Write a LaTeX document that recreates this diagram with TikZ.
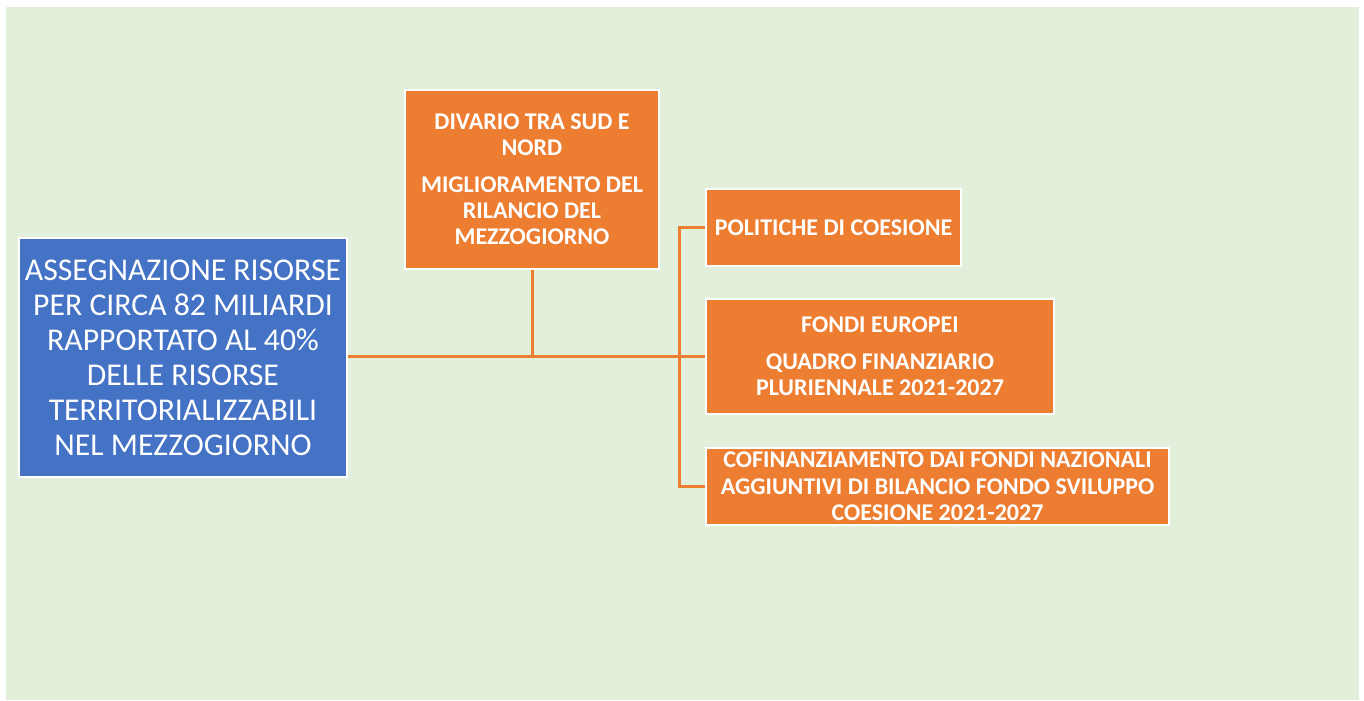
\documentclass[tikz,border=0pt]{standalone}
\usepackage{fontspec}
\setmainfont{Carlito}
\definecolor{bggreen}{HTML}{E2EFDA}
\definecolor{boxorange}{HTML}{ED7D31}
\definecolor{boxblue}{HTML}{4472C4}
\tikzset{
  mainbox/.style={draw=white, line width=2pt, fill=boxblue, text=white, align=center, inner sep=0pt,
    font=\fontsize{23.8pt}{26.25pt}\selectfont},
  subbox/.style={draw=white, line width=2pt, fill=boxorange, text=white, align=center, inner sep=0pt,
    font=\fontsize{18pt}{19.5pt}\selectfont\bfseries},
  link/.style={draw=boxorange, line width=2.25pt}
}
\begin{document}
\begin{tikzpicture}[x=0.75pt,y=-0.75pt]
\useasboundingbox (0,0) rectangle (1364,700);
\fill[bggreen] (6,7) rectangle (1359,700);

\node[mainbox, minimum width=328*0.75pt, minimum height=239*0.75pt] (main) at (183,357.5)
  {ASSEGNAZIONE RISORSE\\PER CIRCA 82 MILIARDI\\RAPPORTATO AL 40\%\\DELLE RISORSE\\TERRITORIALIZZABILI\\NEL MEZZOGIORNO};

\node[subbox, minimum width=254*0.75pt, minimum height=179*0.75pt] (divario) at (532,179.5)
  {DIVARIO TRA SUD E\\NORD\\[8pt]MIGLIORAMENTO DEL\\RILANCIO DEL\\MEZZOGIORNO};

\node[subbox, minimum width=255*0.75pt, minimum height=77*0.75pt] (politiche) at (833.5,227.5)
  {POLITICHE DI COESIONE};

\node[subbox, minimum width=348*0.75pt, minimum height=115*0.75pt] (fondi) at (880,356.5)
  {FONDI EUROPEI\\[8pt]QUADRO FINANZIARIO\\PLURIENNALE 2021-2027};

\node[subbox, minimum width=463*0.75pt, minimum height=77*0.75pt, font=\fontsize{18pt}{20pt}\selectfont\bfseries] (cofin) at (937.5,486.5)
  {COFINANZIAMENTO DAI FONDI NAZIONALI\\AGGIUNTIVI DI BILANCIO FONDO SVILUPPO\\COESIONE 2021-2027};

\coordinate (mainout) at (main.east |- 0,356.5);
\draw[link] (mainout) -- (mainout -| fondi.west);
\draw[link] (divario.south) -- (divario.south |- mainout);
\draw[link] (politiche.west) -- ++(-25,0) |- (cofin.west);
\end{tikzpicture}
\end{document}
